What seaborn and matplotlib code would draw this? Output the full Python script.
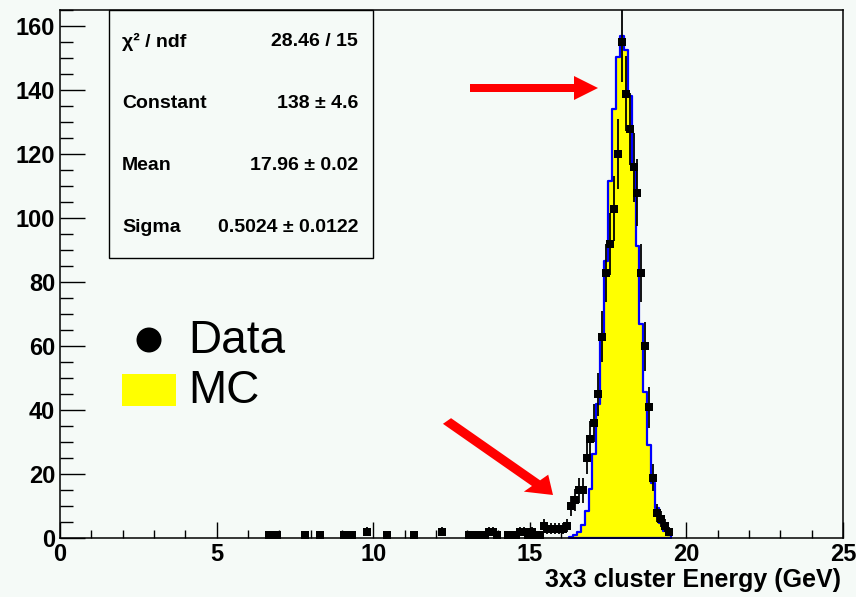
import matplotlib
matplotlib.use("Agg")
import numpy as np
import pandas as pd
import seaborn as sns
import matplotlib.pyplot as plt
from matplotlib.patches import Rectangle, FancyArrow, Ellipse

# ---- histogram binning (0.125 GeV bins over 0-25 GeV) ----
x_min, x_max, bin_width = 0.0, 25.0, 0.125

# ---- measured data: bin centres (GeV) and counts ----
data_centers = [6.6875, 6.9375, 7.8125, 8.3125, 9.0625, 9.3125, 9.8125, 10.4375,
                11.3125, 12.1875, 13.0625, 13.3125, 13.5625, 13.6875, 13.8125,
                13.9375, 14.3125, 14.4375, 14.5625, 14.6875, 14.8125, 14.9375,
                15.0625, 15.1875, 15.3125, 15.4375, 15.5625, 15.6875, 15.8125,
                15.9375, 16.0625, 16.1875, 16.3125, 16.4375, 16.5625, 16.6875,
                16.8125, 16.9375, 17.0625, 17.1875, 17.3125, 17.4375, 17.5625,
                17.6875, 17.8125, 17.9375, 18.0625, 18.1875, 18.3125, 18.4375,
                18.5625, 18.6875, 18.8125, 18.9375, 19.0625, 19.1875, 19.3125,
                19.4375]
data_counts = [1, 1, 1, 1, 1, 1, 2, 1,
               1, 2, 1, 1, 1, 2, 2,
               1, 1, 1, 1, 2, 2, 1,
               2, 1, 1, 4, 3, 3, 3,
               3, 3, 4, 10, 12, 15, 15,
               25, 31, 36, 45, 63, 83, 92,
               103, 120, 155, 139, 128, 116, 108,
               83, 60, 41, 19, 8, 6, 4,
               2]

# ---- simulation (MC), normalised to data ----
mc_centers = [16.3125, 16.4375, 16.5625, 16.6875, 16.8125, 16.9375, 17.0625,
              17.1875, 17.3125, 17.4375, 17.5625, 17.6875, 17.8125, 17.9375,
              18.0625, 18.1875, 18.3125, 18.4375, 18.5625, 18.6875, 18.8125,
              18.9375, 19.0625, 19.1875, 19.3125, 19.4375]
mc_counts = [0.4, 0.9, 2.0, 4.2, 8.4, 15.4, 26.4,
             42.1, 62.5, 86.7, 111.8, 134.3, 150.4, 157.0,
             152.5, 138.2, 116.7, 91.5, 67.1, 45.8, 29.2,
             17.3, 9.5, 4.9, 2.3, 1.0]

# ---- Gaussian fit summary ----
fit_rows = [("\u03c7\u00b2 / ndf", "28.46 / 15"),
            ("Constant", "138 \u00b1 4.6"),
            ("Mean", "17.96 \u00b1 0.02"),
            ("Sigma", "0.5024 \u00b1 0.0122")]

x_label = "3x3 cluster Energy (GeV)"
legend_labels = ["Data", "MC"]

BG = "#f5faf7"
W, H = 856, 597

sns.set_theme(style="ticks")
plt.rcParams["font.family"] = ["Liberation Sans", "DejaVu Sans"]
plt.rcParams["text.color"] = "black"

fig = plt.figure(figsize=(W / 100, H / 100), dpi=100, facecolor=BG)


def fx(px):
    return px / W


def fy(py):
    return 1 - py / H


ax_l, ax_r, ax_t, ax_b = 60, 843, 10, 538.3
ax = fig.add_axes([fx(ax_l), fy(ax_b), fx(ax_r - ax_l), (ax_b - ax_t) / H])
ax.set_facecolor(BG)

# MC histogram: yellow fill with blue outline, only over its populated range
mc_df = pd.DataFrame({"energy": mc_centers, "w": mc_counts})
mc_lo = min(mc_centers) - bin_width / 2
mc_hi = max(mc_centers) + bin_width / 2
sns.histplot(data=mc_df, x="energy", weights="w", binwidth=bin_width,
             binrange=(mc_lo, mc_hi), element="step", fill=True, alpha=1,
             facecolor="#ffff00", edgecolor="#0000ff", linewidth=1.6,
             ax=ax, zorder=2)

# data points with Poisson errors and bin-width bars
data_df = pd.DataFrame({"energy": data_centers, "n": data_counts})
errs = np.sqrt(data_df["n"].to_numpy(dtype=float))
ax.errorbar(data_df["energy"], data_df["n"], yerr=errs, xerr=bin_width / 2,
            fmt="none", ecolor="black", elinewidth=1.3, capsize=0, zorder=3)
sns.scatterplot(data=data_df, x="energy", y="n", marker="s", s=30,
                color="black", edgecolor="black", linewidth=0, ax=ax,
                zorder=4, legend=False)

ax.set_xlim(x_min, x_max)
ax.set_ylim(0, 165.1)
ax.set_xticks([0, 5, 10, 15, 20, 25])
ax.set_xticks(np.arange(0, 26, 1), minor=True)
ax.set_yticks(np.arange(0, 161, 20))
ax.set_yticks(np.arange(0, 166, 5), minor=True)
ax.set_ylabel("")
ax.set_xlabel(x_label, fontsize=18, fontweight="bold", ha="right", va="center",
              color="black")
ax.xaxis.set_label_coords(0.997, -0.079)

ax.tick_params(axis="x", which="major", direction="in", length=11.5, width=1.0,
               labelsize=17, pad=3.5, colors="black", labelcolor="black")
ax.tick_params(axis="x", which="minor", direction="in", length=5.8, width=1.0,
               colors="black")
ax.tick_params(axis="y", which="major", direction="in", length=18, width=1.0,
               labelsize=17, pad=3.5, colors="black", labelcolor="black")
ax.tick_params(axis="y", which="minor", direction="in", length=9, width=1.0,
               colors="black")
for lab in ax.get_xticklabels() + ax.get_yticklabels():
    lab.set_fontweight("bold")
for sp in ax.spines.values():
    sp.set_visible(True)
    sp.set_color("black")
    sp.set_linewidth(1.1)

# ---- fit statistics box ----
box = Rectangle((fx(109), fy(258)), fx(373 - 109), (258 - 10) / H,
                transform=fig.transFigure, facecolor=BG, edgecolor="black",
                linewidth=1.0, zorder=5)
fig.add_artist(box)
for (name, val), py in zip(fit_rows, [42, 104, 166, 228]):
    fig.text(fx(122), fy(py), name, ha="left", va="center", fontsize=14,
             fontweight="bold", color="black", zorder=6)
    fig.text(fx(358), fy(py), val, ha="right", va="center", fontsize=14,
             fontweight="bold", color="black", zorder=6)

# ---- legend ----
fig.add_artist(Ellipse((fx(149), fy(340)), 25 / W, 25 / H,
                       transform=fig.transFigure, facecolor="black",
                       edgecolor="none"))
fig.text(fx(188), fy(341), legend_labels[0], ha="left", va="center",
         fontsize=33, color="black")
fig.add_artist(Rectangle((fx(122), fy(406)), fx(176 - 122), (406 - 374) / H,
                         transform=fig.transFigure, facecolor="#ffff00",
                         edgecolor="none"))
fig.text(fx(188), fy(391), legend_labels[1], ha="left", va="center",
         fontsize=33, color="black")


# ---- red arrows ----
def arrow(x0, y0, x1, y1):
    fig.add_artist(FancyArrow(fx(x0), fy(y0), fx(x1 - x0), fy(y1) - fy(y0),
                              width=8 / H, head_width=24 / H,
                              head_length=24 / W, length_includes_head=True,
                              transform=fig.transFigure, color="#ff0000",
                              linewidth=0, zorder=7))


arrow(470, 88, 598, 88)
arrow(447, 421, 553, 495)

fig.savefig("out.png", dpi=100, facecolor=BG)
